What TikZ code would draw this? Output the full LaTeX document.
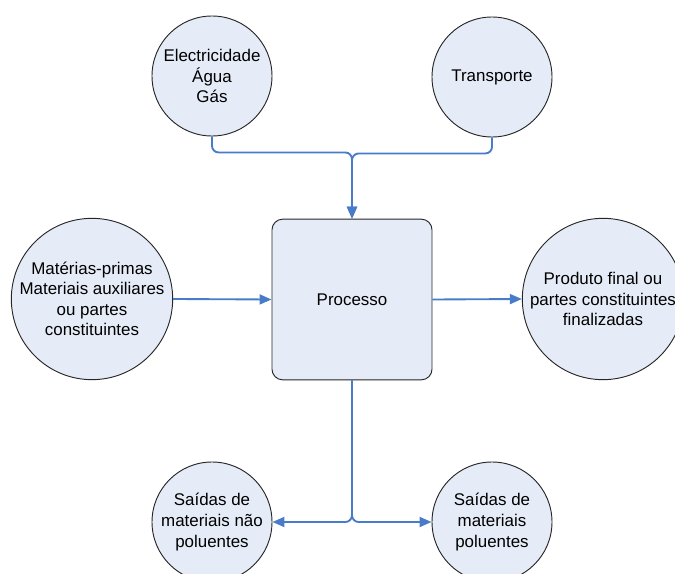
\documentclass[tikz,border=0pt]{standalone}
\usepackage{fontspec}
\setmainfont{Liberation Sans}
\usetikzlibrary{arrows.meta}
\definecolor{fillblue}{RGB}{230,236,247}
\definecolor{lineblue}{RGB}{72,124,200}
\tikzset{
  txt/.style={align=center,font=\fontsize{12.7}{15.4}\selectfont,inner sep=0pt},
  smallc/.style={circle,draw=black!85,line width=0.7pt,fill=fillblue,minimum size=90pt,inner sep=0pt},
  bigc/.style={circle,draw=black!85,line width=0.7pt,fill=fillblue,minimum size=121pt,inner sep=0pt},
  procbox/.style={rectangle,draw=black!85,line width=0.7pt,fill=fillblue,rounded corners=8pt,minimum width=120pt,minimum height=120.5pt,inner sep=0pt},
  conn/.style={draw=lineblue,line width=1.4pt,rounded corners=5pt,-{Triangle[length=9pt,width=7.5pt]}}
}
\begin{document}
\begin{tikzpicture}[x=0.75pt,y=-0.75pt]
\useasboundingbox (0,0) rectangle (675,574);
\node[smallc,label={[txt]center:Electricidade\\Água\\Gás}] (c1) at (212,76) {};
\node[smallc,label={[txt]center:Transporte}] (c2) at (492,77) {};
\node[bigc,label={[txt]center:Matérias-primas\\Materiais auxiliares\\ou partes\\constituintes}] (c3) at (92,299) {};
\node[bigc,label={[txt]center:Produto final ou\\partes constituintes\\finalizadas}] (c4) at (603,299) {};
\node[smallc,label={[txt]center:Saídas de\\materiais não\\poluentes}] (c5) at (212,522) {};
\node[smallc,label={[txt]center:Saídas de\\materiais\\poluentes}] (c6) at (492,522) {};
\node[procbox,txt] (box) at (352,299.5) {Processo};
\draw[conn] (c1.south) -- ++(0,16) -| (box.north);
\draw[conn] (c2.south) -- ++(0,16) -| (box.north);
\draw[conn] (c3.east) -- (box.west);
\draw[conn] (box.east) -- (c4.west);
\draw[conn] (box.south) |- (c5.east);
\draw[conn] (box.south) |- (c6.west);
\end{tikzpicture}
\end{document}
